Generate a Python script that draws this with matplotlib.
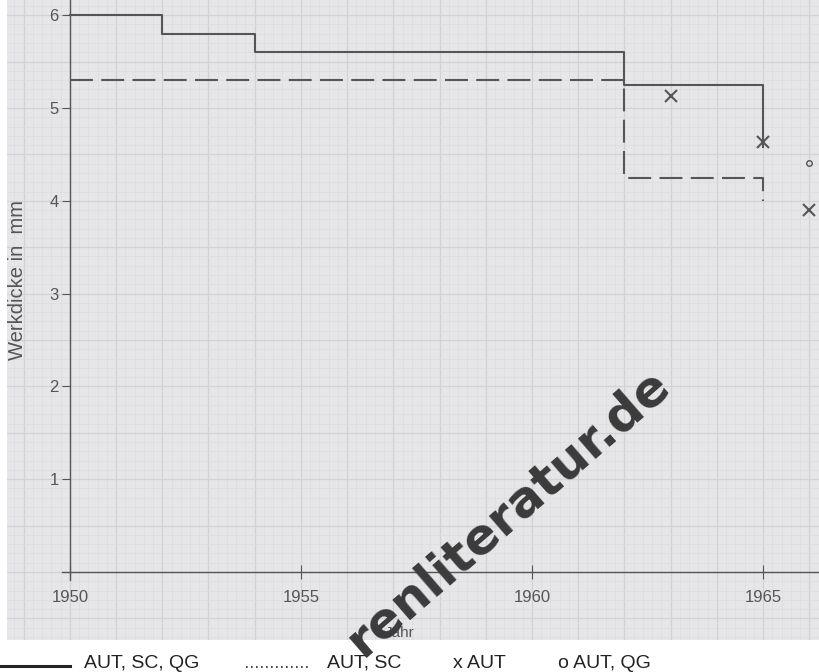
import numpy as np
import matplotlib.pyplot as plt
from matplotlib.lines import Line2D

# Werkdicke over the years
solid_years = [1950, 1952, 1954, 1962, 1965]
solid_vals = [6.0, 5.8, 5.6, 5.25, 4.58]          # AUT, SC, QG

dashed_years = [1950, 1962, 1965]
dashed_vals = [5.3, 4.25, 4.0]                    # AUT, SC

aut_years = [1963, 1965, 1966]
aut_vals = [5.13, 4.63, 3.9]                      # x AUT

autqg_years = [1966]
autqg_vals = [4.41]                               # o AUT, QG

x_ticks = [1950, 1955, 1960, 1965]
y_ticks = [1, 2, 3, 4, 5, 6]

ink = '#555555'
plt.rcParams['font.family'] = ['Liberation Sans', 'DejaVu Sans']

fig = plt.figure(figsize=(8.19, 6.72), dpi=100)
ax = fig.add_axes([7/819, 32/672, 812/819, 640/672])
ax.set_facecolor('#e6e6e9')
ax.set_xlim(1948.64, 1966.21)
ax.set_ylim(-0.733, 6.164)

# graph paper (mm grid)
for xv in np.arange(1948.6, 1966.3, 0.2):
    major = abs(xv - round(xv)) < 1e-6
    ax.axvline(xv, color='#d2d2d6' if major else '#dddde0',
               lw=0.9 if major else 0.5, zorder=0)
for yv in np.arange(-0.7, 6.2, 0.1):
    major = abs(yv * 2 - round(yv * 2)) < 1e-6
    ax.axhline(yv, color='#d2d2d6' if major else '#dddde0',
               lw=0.9 if major else 0.5, zorder=0)

# axes lines at 1950 / 0
ax.spines['top'].set_visible(False)
ax.spines['right'].set_visible(False)
ax.spines['left'].set_position(('data', 1950))
ax.spines['bottom'].set_position(('data', 0))
ax.spines['left'].set_bounds(-0.09, 6.164)
ax.spines['bottom'].set_bounds(1949.82, 1966.21)
for s in ('left', 'bottom'):
    ax.spines[s].set_color(ink)
    ax.spines[s].set_linewidth(1.0)

ax.set_xticks(x_ticks)
ax.set_yticks(y_ticks)
ax.tick_params(axis='y', direction='out', length=6, color=ink, labelcolor=ink,
               labelsize=12, pad=2)
ax.tick_params(axis='x', direction='inout', length=10, color=ink, labelcolor=ink,
               labelsize=12, pad=8)

ax.step(solid_years, solid_vals, where='post', color=ink, lw=1.5, zorder=3)
ax.step(dashed_years, dashed_vals, where='post', color=ink, lw=1.5,
        dashes=(11, 4), zorder=3)
ax.plot(aut_years, aut_vals, 'x', color=ink, ms=8, mew=1.5, zorder=4, clip_on=False)
ax.plot(autqg_years, autqg_vals, 'o', color=ink, mfc='none', ms=4, mew=1.0,
        zorder=4, clip_on=False)

fig.text(18/819, 1 - 280/672, 'Werkdicke in  mm', rotation=90, ha='center',
         va='center', color=ink, fontsize=14.5)
fig.text(400/819, 1 - 633/672, 'Jahr', ha='center', va='center', color=ink,
         fontsize=11)

# legend row
ly = 1 - 663/672
fig.add_artist(Line2D([0, 70/819], [ly - 3/672, ly - 3/672], color='#222222', lw=2.2))
fig.text(84/819, ly, 'AUT, SC, QG', va='center', fontsize=14, color='#222222')
fig.add_artist(Line2D([246/819, 309/819], [ly - 4/672, ly - 4/672], color='#222222',
                      lw=1.2, linestyle=(0, (1, 2))))
fig.text(327/819, ly, 'AUT, SC', va='center', fontsize=14, color='#222222')
fig.text(453/819, ly, 'x AUT', va='center', fontsize=14, color='#222222')
fig.text(558/819, ly, 'o AUT, QG', va='center', fontsize=14, color='#222222')

# watermark
fig.text(508/819, 1 - 512/672, 'renliteratur.de', rotation=41, ha='center',
         va='center', fontsize=36, fontweight='heavy', family='DejaVu Sans',
         color='#3a3a3a', zorder=10)

fig.savefig('out.png', dpi=100)
